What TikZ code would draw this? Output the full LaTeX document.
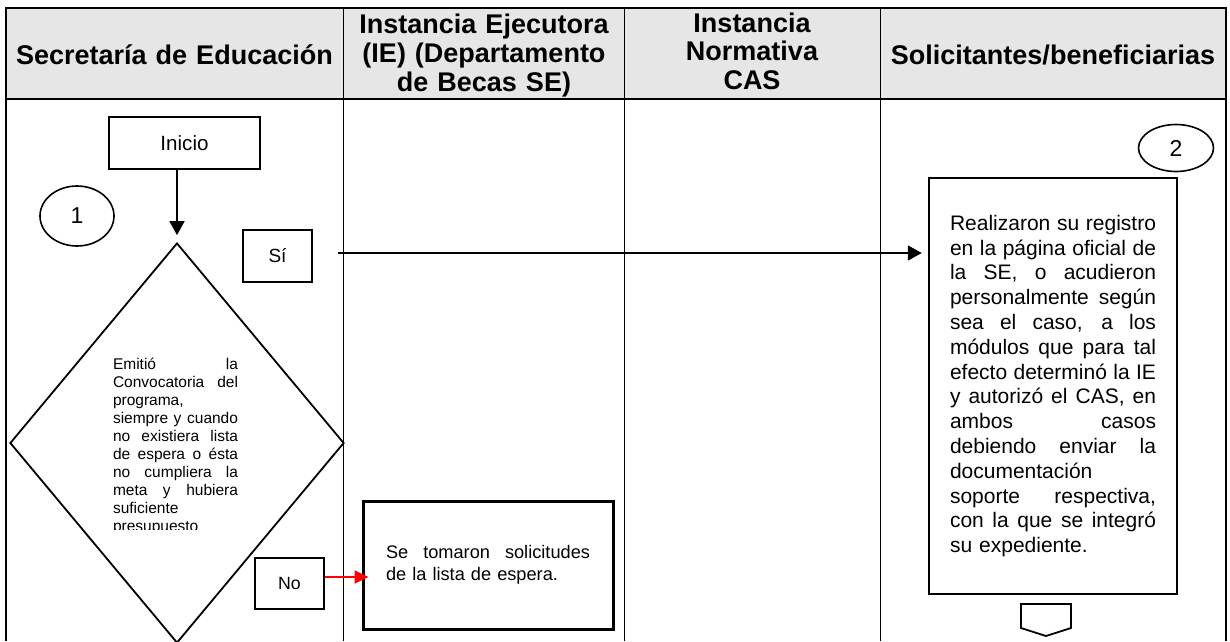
\documentclass[tikz,border=0pt]{standalone}
\usepackage{fontspec}
\setmainfont{Liberation Sans}
\usetikzlibrary{shapes.geometric,arrows.meta}
\definecolor{hdrgray}{RGB}{230,230,230}
\newcommand\jline[2]{\leavevmode\hbox to #1{\spaceskip=0.3em plus 10em\relax #2}}
\begin{document}
\begin{tikzpicture}[x=1pt,y=-1pt,
  hdr/.style={text width=#1, align=center, anchor=base, inner sep=0pt, font=\bfseries\fontsize{27}{29}\selectfont},
  box/.style={draw, inner sep=0pt, line width=1.6pt},
  arr/.style={line width=1.8pt, -{Triangle[length=14pt,width=15pt]}},
  conn/.style={draw, ellipse, line width=1.6pt, inner sep=0pt, font=\fontsize{23}{26}\selectfont},
]
\useasboundingbox (0,0) rectangle (1230,641);
\fill[white] (0,0) rectangle (1230,641);
% table
\fill[hdrgray] (6,8) rectangle (1226,99);
\draw[line width=1.5pt] (6,641) -- (6,8) -- (1226,8) -- (1226,641);
\draw[line width=1.5pt] (6,99) -- (1226,99);
\draw[line width=0.9pt] (343,8) -- (343,641) (624,8) -- (624,641) (880,8) -- (880,641);
% headers
\node[hdr=330pt] (h1) at (174.5,64) {Secretaría de Educación};
\node[hdr=272pt] (h2) at (484,33) {Instancia Ejecutora\\(IE) (Departamento\\de Becas SE)};
\node[hdr=250pt, font=\bfseries\fontsize{27}{28.5}\selectfont] (h3) at (752,32) {Instancia\\Normativa\\CAS};
\node[hdr=340pt] (h4) at (1053,64) {Solicitantes/beneficiarias};
% column 1
\node[box, minimum width=151pt, minimum height=52pt, font=\fontsize{20.6}{24}\selectfont] (inicio) at (184.5,143) {Inicio};
\node[conn, minimum width=74pt, minimum height=60pt] (c1) at (77,216) {1};
\node[diamond, draw, line width=1.8pt, minimum width=334pt, minimum height=400pt, inner sep=0pt] (dec) at (177,443) {};
\begin{scope}
\clip (100,340) rectangle (260,529);
\node[anchor=base, text width=125pt, align=left, inner sep=0pt, font=\fontsize{15.5}{18}\selectfont] (dectext) at (175.5,369) {%
\jline{125pt}{Emitió\hfill la}\\
\jline{125pt}{Convocatoria del}\\
programa,\\
\jline{125pt}{siempre y cuando}\\
\jline{125pt}{no existiera lista}\\
\jline{125pt}{de espera o ésta}\\
\jline{125pt}{no cumpliera la}\\
\jline{125pt}{meta y hubiera}\\
suficiente\\
presupuesto};
\end{scope}
\node[box, minimum width=69pt, minimum height=52pt, font=\fontsize{19}{22}\selectfont] (si) at (277.5,256) {Sí};
\node[box, minimum width=69pt, minimum height=51pt, font=\fontsize{17.7}{21}\selectfont] (no) at (289.5,583.5) {No};
% column 2
\node[box, line width=3pt, minimum width=250pt, minimum height=128pt, text width=204pt, align=left, font=\fontsize{18.2}{22}\selectfont] (tomar) at (488,565) {%
\jline{204pt}{Se tomaron solicitudes}\\
de la lista de espera.};
% column 4
\node[conn, minimum width=75pt, minimum height=47pt] (c2) at (1176,148) {2};
\node[box, line width=2.5pt, minimum width=248pt, minimum height=416pt, text width=206pt, align=left, font=\fontsize{21}{24.8}\selectfont] (reg) at (1053,386) {%
\jline{206pt}{Realizaron su registro}\\
\jline{206pt}{en la página oficial de}\\
\jline{206pt}{la SE, o acudieron}\\
\jline{206pt}{personalmente según}\\
\jline{206pt}{sea el caso, a los}\\
\jline{206pt}{módulos que para tal}\\
\jline{206pt}{efecto determinó la IE}\\
\jline{206pt}{y autorizó el CAS, en}\\
\jline{206pt}{ambos\hfill casos}\\
\jline{206pt}{debiendo enviar la}\\
documentación\\
\jline{206pt}{soporte respectiva,}\\
\jline{206pt}{con la que se integró}\\
su expediente.};
\coordinate (offp) at (1046,620);
\draw[line width=1.8pt, line join=miter] (1021,604) -- (1071,604) -- (1071,628) -- (offp |- 0,636) -- (1021,628) -- cycle;
% connectors
\draw[arr, shorten >=7pt] (inicio.south -| dec.north) -- (dec.north);
\coordinate (sistart) at (338,253);
\draw[arr, shorten >=6pt] (sistart) -- (sistart -| reg.west);
\draw[line width=1.8pt, red, -{Triangle[length=14pt,width=13pt]}, shorten >=-7pt] ([yshift=6.5pt]no.east) -- ([yshift=6.5pt]no.east -| tomar.west);
\end{tikzpicture}
\end{document}
